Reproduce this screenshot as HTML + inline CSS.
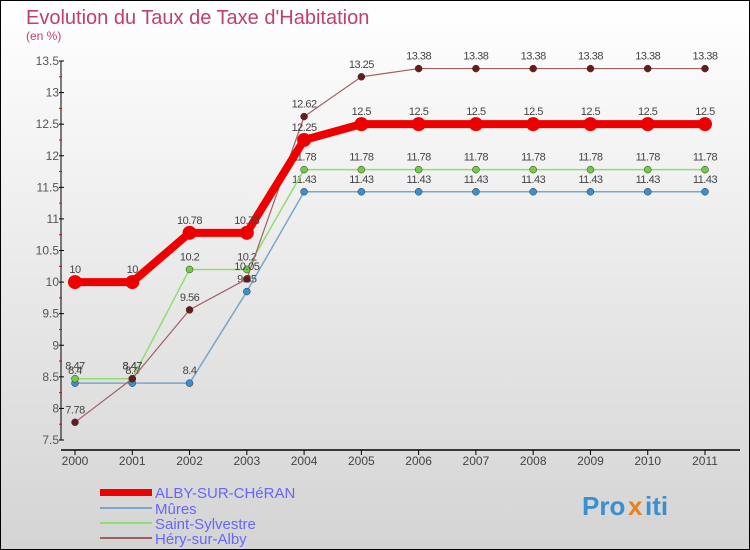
<!DOCTYPE html>
<html><head><meta charset="utf-8"><style>
html,body{margin:0;padding:0}
body{width:750px;height:550px;overflow:hidden;font-family:"Liberation Sans",sans-serif}
#wrap{position:absolute;left:0;top:0;width:748px;height:548px;border:1px solid #000;background:linear-gradient(#ffffff,#d4d4d4)}
</style></head><body>
<div id="wrap">
<svg id="chart" width="750" height="550" style="position:absolute;left:-1px;top:-1px">
<text x="26" y="24" font-size="20" fill="#c0406a">Evolution du Taux de Taxe d'Habitation</text>
<text x="26" y="40" font-size="12" fill="#c0406a">(en %)</text>
<g id="axes"></g><g id="series"></g>
<g font-size="15" fill="#6666ff">
<rect x="100" y="489" width="52" height="7" fill="#e00"/>
<text x="155" y="498">ALBY-SUR-CHéRAN</text>
<rect x="100" y="507" width="52" height="2" fill="#7aa7c7"/>
<text x="155" y="514">Mûres</text>
<rect x="100" y="522" width="52" height="2" fill="#90dd70"/>
<text x="155" y="529">Saint-Sylvestre</text>
<rect x="100" y="537" width="52" height="2" fill="#a06060"/>
<text x="155" y="544">Héry-sur-Alby</text>
</g>
<g font-size="26" font-weight="bold">
<text x="582" y="515" fill="#3a8fd0">Pro</text><text x="628" y="515" fill="#e88020">x</text><text x="645" y="515" fill="#3a8fd0">iti</text>
</g>
</svg>
</div>
<script>
const years=[2000,2001,2002,2003,2004,2005,2006,2007,2008,2009,2010,2011];
const yTicks=[7.5,8,8.5,9,9.5,10,10.5,11,11.5,12,12.5,13,13.5];
const alby=[10,10,10.78,10.78,12.25,12.5,12.5,12.5,12.5,12.5,12.5,12.5];
const mures=[8.4,8.4,8.4,9.85,11.43,11.43,11.43,11.43,11.43,11.43,11.43,11.43];
const sylvestre=[8.47,8.47,10.2,10.2,11.78,11.78,11.78,11.78,11.78,11.78,11.78,11.78];
const hery=[7.78,8.47,9.56,10.05,12.62,13.25,13.38,13.38,13.38,13.38,13.38,13.38];
const NS='http://www.w3.org/2000/svg';
const X=i=>75+i*(630/(years.length-1));
const Y=v=>440-(v-7.5)*(379/6);
function mk(t,a,p){const e=document.createElementNS(NS,t);for(const k in a)e.setAttribute(k,a[k]);p.appendChild(e);return e;}
const ax=document.getElementById('axes');
const yl=mk('line',{x1:61,y1:Y(13.5),x2:61,y2:Y(7.5),stroke:'#000'},ax);


const xl=mk('line',{x1:61,y1:450,x2:740,y2:450,stroke:'#000','stroke-width':1.5},ax);


yTicks.forEach(v=>{
 mk('line',{x1:59,x2:64,y1:Y(v),y2:Y(v),stroke:'#000'},ax);
 mk('line',{x1:59,x2:62,y1:Y(v+0.25),y2:Y(v+0.25),stroke:'#e00'},ax).setAttribute('visibility',v<13.5?'visible':'hidden');
 const t=mk('text',{x:59,y:Y(v)+4,'text-anchor':'end','font-size':12,fill:'#555'},ax);t.textContent=v;
 
 
});
years.forEach((yr,i)=>{
 mk('line',{x1:X(i),x2:X(i),y1:450,y2:455,stroke:'#000'},ax);
 const t=mk('text',{x:X(i),y:465,'text-anchor':'middle','font-size':12,fill:'#444'},ax);t.textContent=yr;
 
 
});
const sg=document.getElementById('series');
function draw(data,color,dot,w,r,name){
 const g=mk('g',{},sg);
 
 
 mk('polyline',{points:data.map((v,i)=>X(i)+','+Y(v)).join(' '),fill:'none',stroke:color,'stroke-width':w},g);
 data.forEach((v,i)=>{
  const c=mk('circle',{cx:X(i),cy:Y(v),r:r,fill:dot,stroke:w>3?'none':'#333','stroke-width':0.5},g);
  
  
  const t=mk('text',{x:X(i),y:Y(v)-9,'text-anchor':'middle','font-size':11,fill:'#444','letter-spacing':'-0.5'},g);
  t.textContent=v;
  
  
 });
}
draw(mures,'#7aa7c7','#3a8fd0',1.5,3.5,'mures');
draw(sylvestre,'#90dd70','#70cc40',1.5,3.5,'saint-sylvestre');
draw(hery,'#a06060','#6a1a1a',1.2,3.5,'hery');
draw(alby,'#ee0000','#ee0000',8,7,'alby');
</script>
</body></html>
